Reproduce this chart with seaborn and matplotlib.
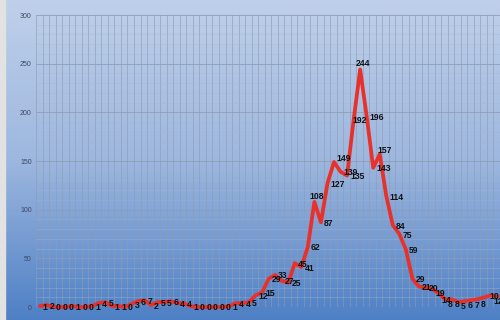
import numpy as np
import pandas as pd
import matplotlib
matplotlib.use('Agg')
import matplotlib.pyplot as plt
import seaborn as sns
from matplotlib.colors import LinearSegmentedColormap

# series values left to right
counts = [1, 2, 0, 0, 0, 1, 0, 0, 1, 4,
          5, 1, 1, 0, 3, 6, 7, 2, 5, 5,
          6, 4, 4, 1, 0, 0, 0, 0, 0, 1,
          4, 4, 5, 12, 15, 29, 33, 27, 25, 45,
          41, 62, 108, 87, 127, 149, 139, 135, 192, 244,
          196, 143, 157, 114, 84, 75, 59, 29, 21, 20,
          19, 14, 8, 8, 5, 6, 7, 8, 10, 12, 11]
y_ticks = [0, 50, 100, 150, 200, 250, 300]

df = pd.DataFrame({'idx': np.arange(len(counts)), 'count': counts})

sns.set_style('white')
plt.rcParams['font.family'] = ['Liberation Sans', 'DejaVu Sans']

fig = plt.figure(figsize=(5, 3.2), dpi=100)

# blue gradient background of the whole chart
bg = fig.add_axes([0, 0, 1, 1], zorder=0)
cmap = LinearSegmentedColormap.from_list('bg', ['#bfd0ea', '#9db7df', '#4e80c5'])
grad = np.linspace(0, 1, 256).reshape(-1, 1)
bg.imshow(grad, aspect='auto', cmap=cmap, extent=[0, 1, 0, 1], origin='upper')
bg.axvspan(0, 5 / 500, color='#e2e2e2')
bg.set_xlim(0, 1)
bg.set_ylim(0, 1)
bg.axis('off')

ax = fig.add_axes([36 / 500, 13 / 320, 464 / 500, 292 / 320], zorder=1)
ax.patch.set_alpha(0)

sns.lineplot(data=df, x='idx', y='count', ax=ax, color='#e8312b',
             linewidth=2.7, clip_on=False, zorder=3)

ax.set_xlim(-0.6, 70.2)
ax.set_ylim(0, 300)

# grid
ax.set_xticks(np.arange(-0.6, 71, 1))
ax.set_xticklabels([])
ax.tick_params(axis='x', length=0)
ax.set_yticks(y_ticks)
ax.set_yticks(np.arange(0, 301, 10), minor=True)
ax.set_yticklabels([str(t) for t in y_ticks], fontsize=5, color='#3c4760')
ax.tick_params(axis='y', length=0, pad=3)
ax.tick_params(axis='y', which='minor', length=0)
ax.grid(True, axis='x', color='#8d9bb3', linewidth=0.6, alpha=0.7)
ax.grid(True, axis='y', which='major', color='#8d9bb3', linewidth=0.7, alpha=0.8)
ax.grid(True, axis='y', which='minor', color='#a7b5cb', linewidth=0.5, alpha=0.5)
for s in ax.spines.values():
    s.set_visible(False)
ax.set_xlabel('')
ax.set_ylabel('')

# data labels, mostly to the right of each point
special = {42: (-5, 5), 45: (2, 3), 48: (-1, 0), 49: (-4, 6), 52: (-2, 4),
           60: (3, -5), 61: (3, -7),
           62: (3, -5), 63: (3, -5), 64: (3, -4), 65: (3, -4), 66: (3, -5), 67: (3, -5),
           68: (5, 1), 69: (3, -6)}
for i, v in enumerate(counts):
    dx, dy = special.get(i, (3, -1))
    ax.annotate(str(v), (i, v), xytext=(dx, dy), textcoords='offset pixels',
                ha='left', va='center', fontsize=6.2, fontweight='bold',
                color='#111111', zorder=4)

fig.savefig('out.png', dpi=100)
